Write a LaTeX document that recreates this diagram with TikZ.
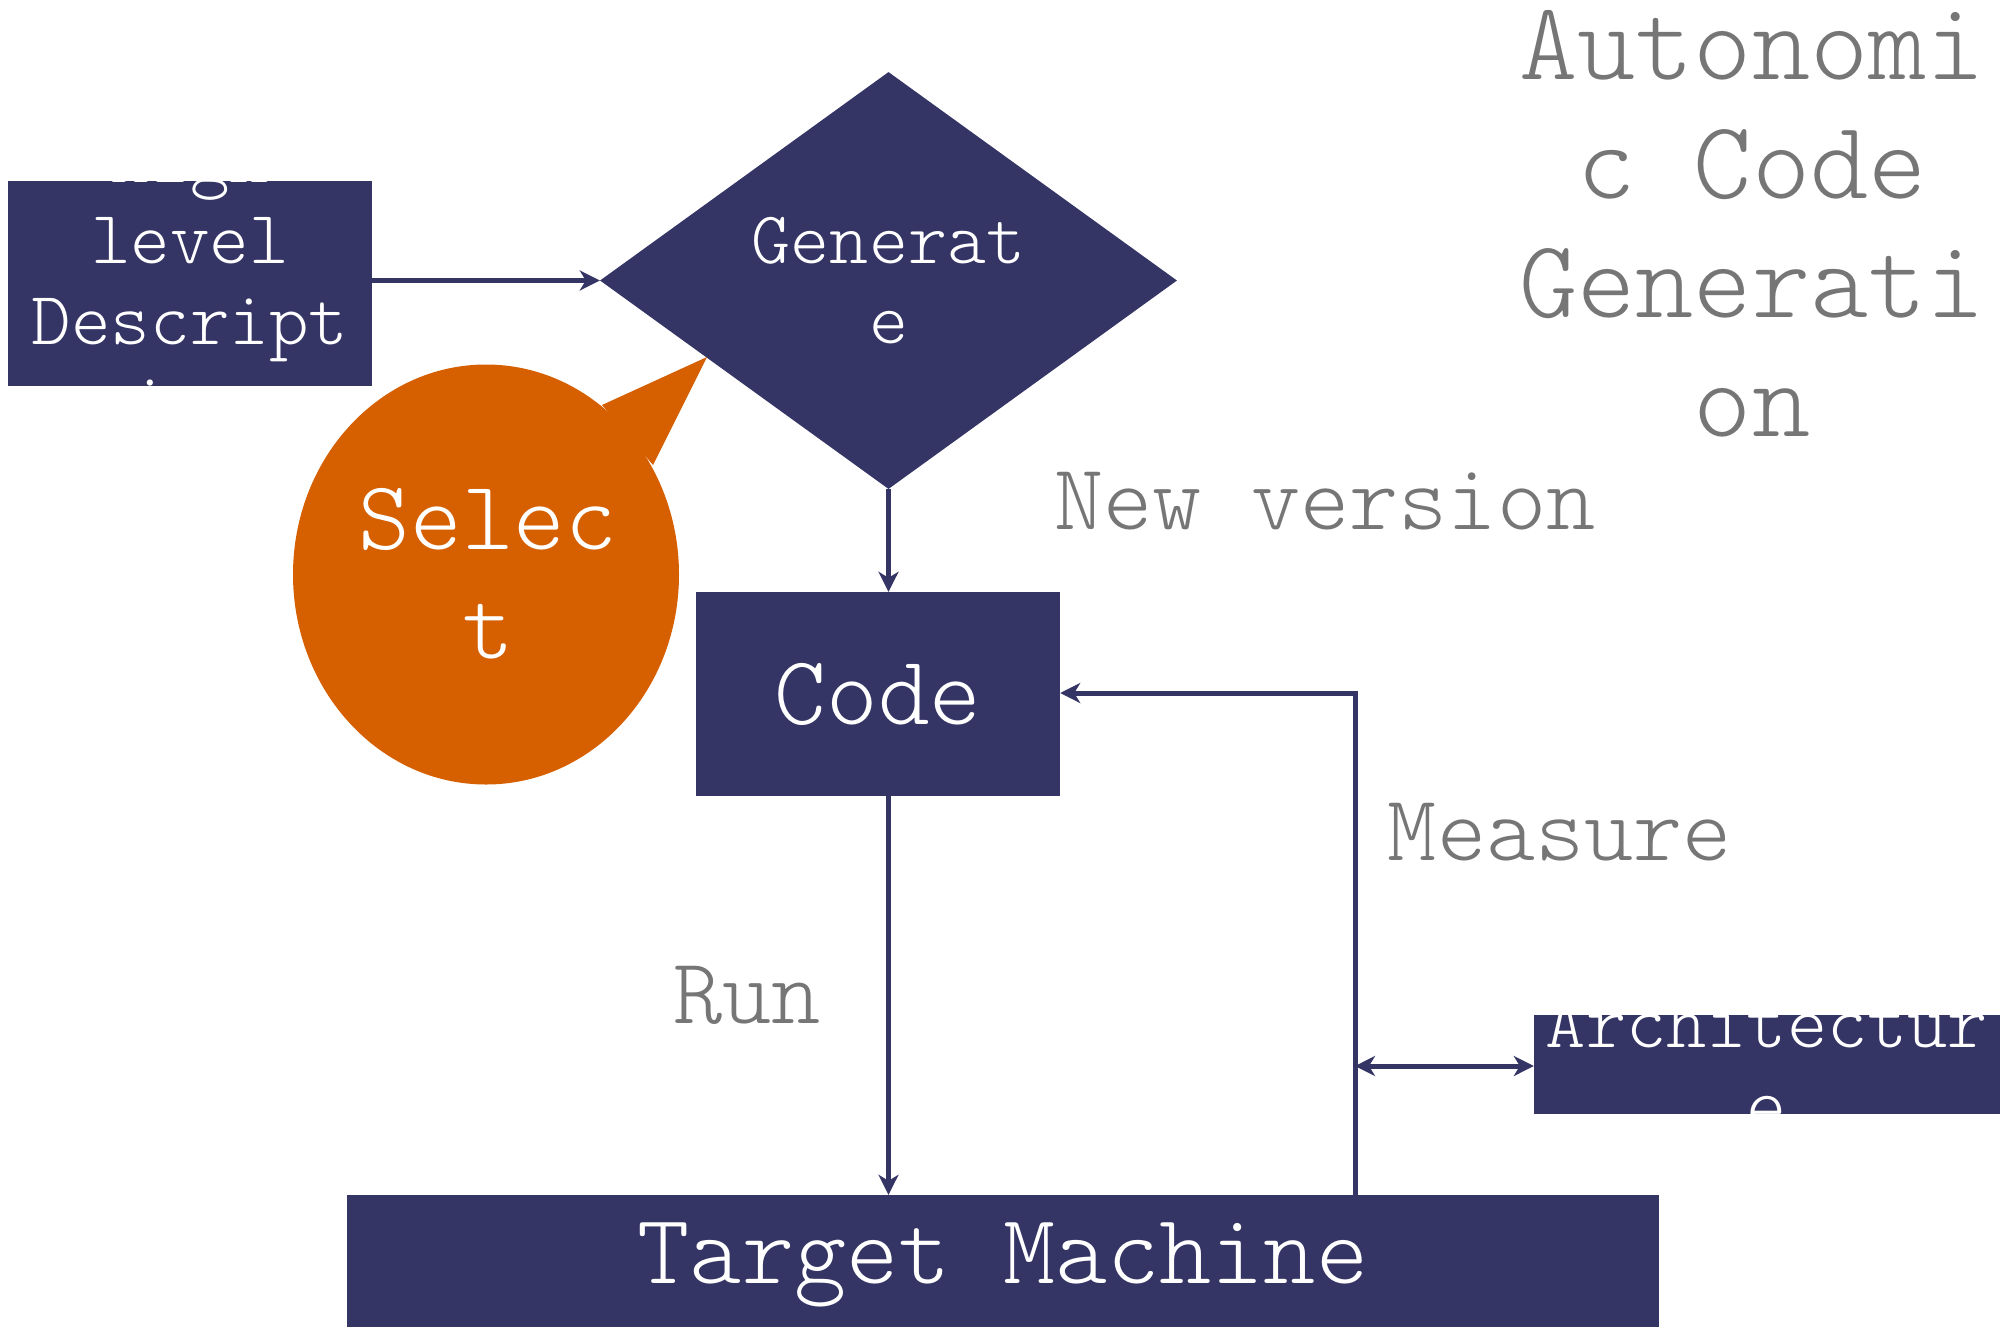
\documentclass[tikz,border=0pt]{standalone}
\usepackage{fontspec}
\setmonofont{lmmonolt10-regular.otf}
\usetikzlibrary{shapes.geometric,arrows.meta}
\definecolor{navy}{HTML}{343465}
\definecolor{rust}{HTML}{D65F00}
\definecolor{labelgray}{HTML}{767676}
\newcommand\monosize[2]{\ttfamily\fontsize{#1}{#2}\selectfont}
\tikzset{
  block/.style={fill=navy, draw=none, inner sep=0pt},
  intext/.style={text=white, align=center, inner sep=0pt},
  caption/.style={text=labelgray, align=center, inner sep=0pt, font=\monosize{93.7}{100}},
  link/.style={draw=navy, line width=5pt, -{Stealth[length=20pt,width=20pt,inset=6pt]}},
  dlink/.style={draw=navy, line width=5pt, {Stealth[length=20pt,width=20pt,inset=6pt]}-{Stealth[length=20pt,width=20pt,inset=6pt]}},
}
\begin{document}
\begin{tikzpicture}[x=1pt, y=-1pt]
\useasboundingbox (0,0) rectangle (2013,1326);

% input description box (text clipped by the box)
\node[block, minimum width=364pt, minimum height=205pt,
  path picture={\node[intext, font=\monosize{75.4}{81}] at ([yshift=2pt]path picture bounding box.center) {High\\level\\Descript\\ion};}]
  (desc) at (190,283.5) {};

% generation step
\node[diamond, block, minimum width=577pt, minimum height=417pt,
  path picture={\node[intext, font=\monosize{74.3}{80}] at (path picture bounding box.center) {Generat\\e};}]
  (gen) at (888.5,280.5) {};

% selection callout
\fill[rust] (486,574.5) ellipse [x radius=193, y radius=210];
\fill[rust] (602,405) -- (707,357) -- (653,465) -- cycle;
\node[intext, font=\monosize{98.3}{109}] (sel) at (488,574) {Selec\\t};

% generated code
\node[block, minimum width=364pt, minimum height=204pt,
  path picture={\node[intext, font=\monosize{98.3}{105}] at (path picture bounding box.center) {Code};}]
  (code) at (878,694) {};

% target machine
\node[block, minimum width=1312pt, minimum height=140pt,
  path picture={\node[intext, font=\monosize{99.4}{105}] at (path picture bounding box.center) {Target Machine};}]
  (target) at (1003,1265) {};

% architecture description
\node[block, minimum width=466pt, minimum height=99pt,
  path picture={\node[intext, font=\monosize{76.6}{82}] at (path picture bounding box.center) {Architectur\\e};}]
  (arch) at (1767,1064.5) {};

% title and edge captions
\node[caption, font=\monosize{110.9}{119}] (title) at (1752,224) {Autonomi\\c Code\\Generati\\on};
\node[caption] (newver) at (1325,501) {New version};
\node[caption] (measure) at (1560,832) {Measure};
\node[caption] (run) at (747,995) {Run};

% connectors
\coordinate (mtop) at (1355,693);
\coordinate (mmid) at (1355,1066);
\draw[link] (desc.east |- gen.west) -- (gen.west);
\draw[link] (gen.south) -- (gen.south |- code.north);
\draw[link] (code.south -| gen.south) -- (target.north -| gen.south);
\draw[link] (target.north -| mtop) -- (mtop) -- (mtop -| code.east);
\draw[dlink] (mmid) -- (arch.west |- mmid);
\end{tikzpicture}
\end{document}
